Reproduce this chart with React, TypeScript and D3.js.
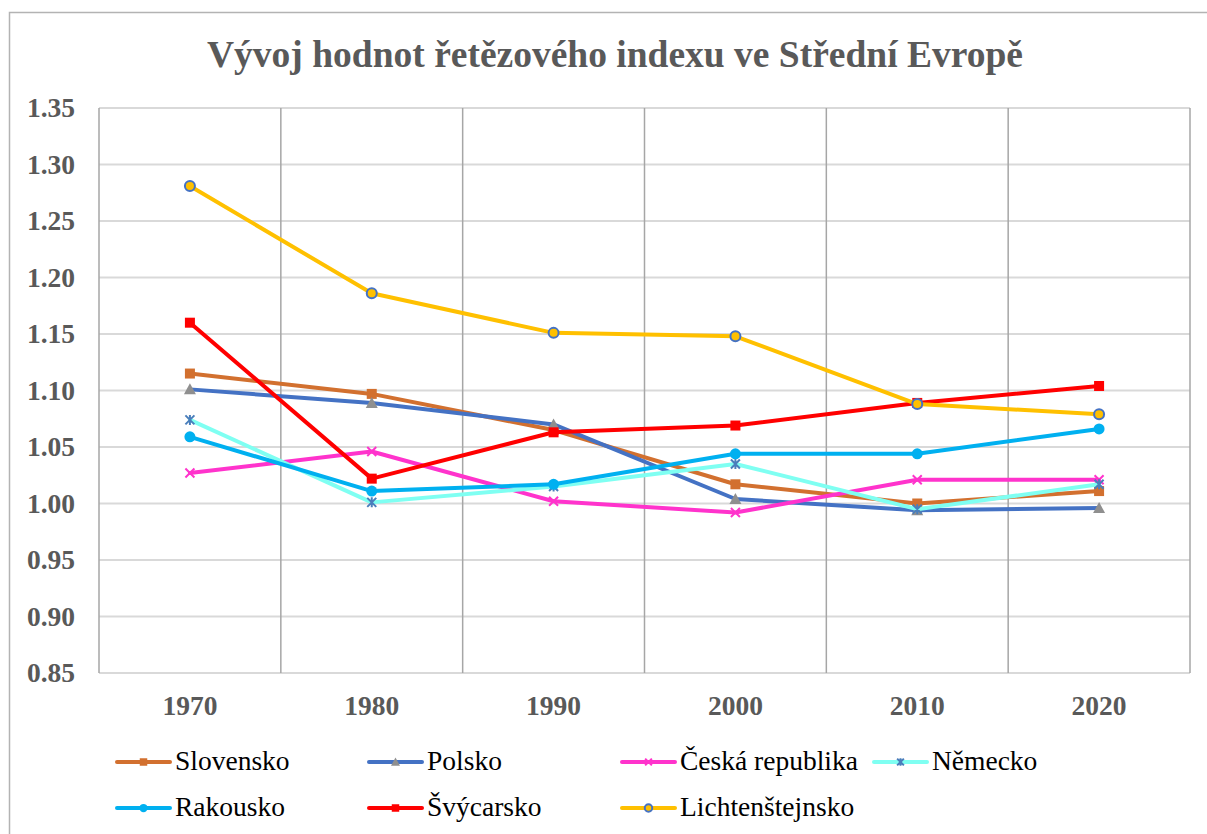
import React from "react";
import * as d3 from "d3";

const years = ["1970", "1980", "1990", "2000", "2010", "2020"];
const yTicks = [0.85, 0.9, 0.95, 1.0, 1.05, 1.1, 1.15, 1.2, 1.25, 1.3, 1.35];

const slovensko = [1.115, 1.097, 1.065, 1.017, 1.0, 1.011];
const polsko = [1.101, 1.089, 1.07, 1.004, 0.994, 0.996];
const ceska = [1.027, 1.046, 1.002, 0.992, 1.021, 1.021];
const nemecko = [1.074, 1.001, 1.015, 1.035, 0.995, 1.017];
const rakousko = [1.059, 1.011, 1.017, 1.044, 1.044, 1.066];
const svycarsko = [1.16, 1.022, 1.063, 1.069, 1.089, 1.104];
const lichtenstejnsko = [1.281, 1.186, 1.151, 1.148, 1.088, 1.079];

type Marker = "square" | "triangle" | "x" | "star" | "circle" | "ring";
interface Series {
  name: string;
  values: number[];
  color: string;
  marker: Marker;
  mFill: string;
  mStroke: string;
}

const series: Series[] = [
  { name: "Slovensko", values: slovensko, color: "#D2702F", marker: "square", mFill: "#D2702F", mStroke: "#D2702F" },
  { name: "Polsko", values: polsko, color: "#4472C4", marker: "triangle", mFill: "#8F8F8F", mStroke: "#8F8F8F" },
  { name: "Česká republika", values: ceska, color: "#FF33CC", marker: "x", mFill: "none", mStroke: "#FF33CC" },
  { name: "Německo", values: nemecko, color: "#7FFFF2", marker: "star", mFill: "none", mStroke: "#4A7EBB" },
  { name: "Rakousko", values: rakousko, color: "#00B0F0", marker: "circle", mFill: "#00B0F0", mStroke: "#00B0F0" },
  { name: "Švýcarsko", values: svycarsko, color: "#FF0000", marker: "square", mFill: "#FF0000", mStroke: "#FF0000" },
  { name: "Lichtenštejnsko", values: lichtenstejnsko, color: "#FFC000", marker: "ring", mFill: "#FFC000", mStroke: "#4472C4" },
];

const legendPos = [
  { x: 117, y: 762 },
  { x: 369, y: 762 },
  { x: 622, y: 762 },
  { x: 874, y: 762 },
  { x: 117, y: 808 },
  { x: 369, y: 808 },
  { x: 622, y: 808 },
];

function MarkerShape({ s, cx, cy, scale }: { s: Series; cx: number; cy: number; scale: number }) {
  const k = scale;
  switch (s.marker) {
    case "square":
      return <rect x={cx - 5 * k} y={cy - 5 * k} width={10 * k} height={10 * k} fill={s.mFill} />;
    case "triangle":
      return (
        <path
          d={`M${cx},${cy - 6 * k} L${cx + 6 * k},${cy + 5 * k} L${cx - 6 * k},${cy + 5 * k} Z`}
          fill={s.mFill}
        />
      );
    case "x":
      return (
        <path
          d={`M${cx - 4.5 * k},${cy - 4.5 * k} L${cx + 4.5 * k},${cy + 4.5 * k} M${cx + 4.5 * k},${cy - 4.5 * k} L${cx - 4.5 * k},${cy + 4.5 * k}`}
          stroke={s.mStroke}
          strokeWidth={2}
          fill="none"
        />
      );
    case "star":
      return (
        <path
          d={`M${cx - 4.5 * k},${cy - 4.5 * k} L${cx + 4.5 * k},${cy + 4.5 * k} M${cx + 4.5 * k},${cy - 4.5 * k} L${cx - 4.5 * k},${cy + 4.5 * k} M${cx},${cy - 5 * k} L${cx},${cy + 5 * k}`}
          stroke={s.mStroke}
          strokeWidth={2}
          fill="none"
        />
      );
    case "circle":
      return <circle cx={cx} cy={cy} r={5.5 * k} fill={s.mFill} />;
    case "ring":
      return <circle cx={cx} cy={cy} r={5 * k} fill={s.mFill} stroke={s.mStroke} strokeWidth={2} />;
  }
  return null;
}

const FONT = '"Liberation Serif", "Times New Roman", Times, serif';

export default function App() {
  const W = 1207;
  const H = 834;
  const left = 99;
  const right = 1190;
  const top = 108;
  const bottom = 673;

  const x = d3.scaleBand<string>().domain(years).range([left, right]);
  const y = d3.scaleLinear().domain([0.85, 1.35]).range([bottom, top]);
  const cx = (yr: string) => (x(yr) as number) + x.bandwidth() / 2;

  const line = d3
    .line<number>()
    .x((_, i) => cx(years[i]))
    .y((v) => y(v));

  const txt = { fontFamily: FONT };

  return (
    <svg
      width={W}
      height={H}
      style={{ position: "absolute", left: 0, top: 0, background: "#fff", fontFamily: FONT }}
    >
      <rect x={0} y={0} width={W} height={H} fill="#fff" />
      <rect x={9.5} y={12.5} width={1240} height={900} fill="#fff" stroke="#B3B3B3" strokeWidth={1.5} />

      <text
        x={615}
        y={67}
        textAnchor="middle"
        fontSize={37.5}
        fontWeight="bold"
        fill="#595959"
        style={txt}
      >
        Vývoj hodnot řetězového indexu ve Střední Evropě
      </text>

      {yTicks.map((t) => (
        <line
          key={"h" + t}
          x1={left}
          x2={right}
          y1={y(t)}
          y2={y(t)}
          stroke="#D9D9D9"
          strokeWidth={2}
        />
      ))}
      {years.map((yr) => (
        <line
          key={"v" + yr}
          x1={x(yr) as number}
          x2={x(yr) as number}
          y1={top}
          y2={bottom}
          stroke="#A6A6A6"
          strokeWidth={1.5}
        />
      ))}
      <line x1={right} x2={right} y1={top} y2={bottom} stroke="#A6A6A6" strokeWidth={1.5} />

      {yTicks.map((t) => (
        <text
          key={"yl" + t}
          x={75}
          y={y(t) + 9}
          textAnchor="end"
          fontSize={27.5}
          fontWeight="bold"
          fill="#595959"
          style={txt}
        >
          {t.toFixed(2)}
        </text>
      ))}
      {years.map((yr) => (
        <text
          key={"xl" + yr}
          x={cx(yr)}
          y={715}
          textAnchor="middle"
          fontSize={27.5}
          fontWeight="bold"
          fill="#595959"
          style={txt}
        >
          {yr}
        </text>
      ))}

      {series.map((s) => (
        <g key={s.name}>
          <path
            d={line(s.values) as string}
            fill="none"
            stroke={s.color}
            strokeWidth={4}
            strokeLinejoin="round"
            strokeLinecap="round"
          />
          {s.values.map((v, i) => (
            <MarkerShape key={i} s={s} cx={cx(years[i])} cy={y(v)} scale={1} />
          ))}
        </g>
      ))}

      {series.map((s, i) => {
        const p = legendPos[i];
        return (
          <g key={"lg" + s.name}>
            <line
              x1={p.x}
              x2={p.x + 53}
              y1={p.y}
              y2={p.y}
              stroke={s.color}
              strokeWidth={4}
              strokeLinecap="round"
            />
            <MarkerShape s={s} cx={p.x + 26.5} cy={p.y} scale={0.75} />
            <text x={p.x + 58} y={p.y + 8} fontSize={27.5} fill="#000" style={txt}>
              {s.name}
            </text>
          </g>
        );
      })}
    </svg>
  );
}
